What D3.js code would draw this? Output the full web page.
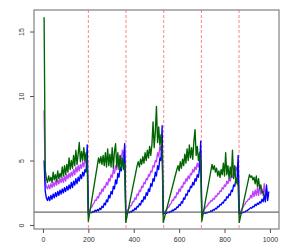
<!DOCTYPE html>
<html><head><meta charset="utf-8">
<script src="https://cdn.jsdelivr.net/npm/d3@7"></script>
<style>html,body{margin:0;padding:0;background:#fff;} svg{display:block;}</style>
</head><body>
<svg id="c" width="297" height="248"></svg>
<script>
// index positions (every 5th step of the run)
const xs = d3.range(5, 1000, 5);

const blue = [
  5.0,2.6,2.1,1.9,2.2,1.9,2.3,2.0,2.4,2.1, 2.5,2.2,2.6,2.3,2.7,2.4,2.8,2.5,2.9,2.6,
  3.0,2.7,3.1,2.8,3.3,2.9,3.4,3.1,3.6,3.2, 3.7,3.4,3.9,3.6,4.1,3.8,4.3,4.1,6.2,0.9,
  0.9,1.0,0.95,1.05,1.0,1.15,1.05,1.2,1.1,1.3, 1.2,1.45,1.35,1.7,1.55,1.95,1.8,2.3,2.1,2.6,
  2.4,3.0,2.8,3.5,3.2,4.0,3.7,4.5,4.2,4.9, 4.6,6.3,0.9,
  0.9,1.0,0.95,1.05,1.0,1.15,1.1,1.3,1.2,1.45, 1.4,1.65,1.55,1.9,1.8,2.2,2.0,2.5,2.3,2.8,
  2.6,3.2,3.0,3.6,3.4,4.1,3.8,4.6,4.3,5.2, 5.0,7.7,0.9,
  0.9,0.95,0.9,1.0,0.95,1.05,1.0,1.15,1.1,1.25, 1.2,1.4,1.35,1.6,1.5,1.8,1.7,2.1,2.0,2.4,
  2.3,2.7,2.6,3.0,2.9,3.3,3.1,3.6,3.4,3.9, 3.7,4.4,6.5,0.9,
  0.9,0.95,0.9,0.95,0.95,1.0,1.0,1.1,1.05,1.2, 1.15,1.3,1.25,1.45,1.4,1.6,1.55,1.75,1.7,1.95,
  1.9,2.2,2.1,2.4,2.3,2.7,2.6,3.1,3.0,3.6, 3.5,5.4,0.9,
  0.9,0.95,0.95,1.0,1.0,1.1,1.1,1.2,1.25,1.35, 1.3,1.45,1.4,1.6,1.5,1.7,1.6,1.8,1.7,2.0,
  1.8,2.3,1.8,3.1,1.9,2.6
];

const violet = [
  8.9,3.4,3.0,2.8,3.1,2.8,3.2,2.9,3.3,3.0, 3.4,3.1,3.5,3.2,3.6,3.3,3.7,3.3,3.8,3.4,
  3.9,3.6,4.0,3.7,4.1,3.8,4.3,3.9,4.5,4.1, 4.6,4.2,4.7,4.4,4.9,4.5,5.1,4.8,5.6,0.8,
  1.1,1.3,1.4,1.6,1.7,1.95,1.9,2.2,2.1,2.5, 2.4,2.8,2.6,3.0,2.9,3.3,3.1,3.6,3.4,3.9,
  3.7,4.3,4.0,4.6,4.3,5.0,4.7,5.4,5.0,5.8, 5.3,6.0,0.8,
  1.0,1.2,1.3,1.5,1.5,1.8,1.8,2.1,2.0,2.4, 2.3,2.7,2.6,3.0,2.9,3.3,3.2,3.6,3.5,3.9,
  3.8,4.2,4.1,4.6,4.5,5.0,4.9,5.6,5.3,6.1, 5.8,7.0,0.8,
  1.0,1.1,1.2,1.35,1.4,1.6,1.7,1.95,1.9,2.2, 2.1,2.5,2.4,2.8,2.6,3.0,2.9,3.3,3.2,3.6,
  3.4,3.8,3.6,4.0,3.9,4.3,4.1,4.5,4.3,4.8, 4.5,5.0,5.8,0.8,
  1.0,1.2,1.3,1.45,1.5,1.7,1.7,1.9,1.85,2.05, 2.0,2.25,2.2,2.45,2.4,2.65,2.6,2.9,2.8,3.1,
  3.0,3.4,3.2,3.6,3.4,3.9,3.7,4.2,4.0,4.5, 4.2,4.8,0.8,
  1.0,1.2,1.35,1.5,1.6,1.8,1.85,2.0,2.0,2.3, 2.1,2.6,2.2,2.7,2.3,2.9,2.3,3.1,2.4,2.8,
  2.3,3.2,2.2,2.8,2.1,2.3
];

const green = [
  16.1,4.3,3.6,3.3,3.8,3.4,3.7,3.3,4.1,3.5, 3.9,3.4,4.2,3.6,4.0,3.7,4.5,3.8,4.6,3.9,
  4.7,4.1,5.2,4.3,5.0,4.4,5.4,4.6,5.8,4.7, 5.5,6.4,4.9,5.7,5.0,6.0,5.0,5.6,4.6,0.3,
  null,null,null,null,null,null,null,null, 5.2,4.8,
  5.3,4.7,5.4,4.6,5.6,4.5,5.9,4.6,5.5,4.5, 6.0,4.4,5.7,6.3,4.5,5.6,4.3,5.4,4.4,5.2,
  4.3,4.8,0.2,
  null,null,null,null,null,null,null,null,null,
  4.6,4.9,4.5,5.1,4.7,5.3,4.8,5.6,5.0,5.8, 5.2,6.1,5.4,6.2,8.0,6.0,7.2,9.2,6.4,7.6,
  6.2,7.0,5.8,0.2,
  null,null,null,null,null,null,null,null,null,null,null,
  4.3,4.6,4.2,4.9,4.4,5.1,4.6,5.5,4.8,5.9, 5.0,6.2,5.2,6.0,5.1,6.5,7.4,5.4,6.1,5.0,
  5.6,4.8,0.3,
  null,null,null,null,null,null,null,null,
  4.7,4.3,4.6,4.1,4.4,3.8,4.2,3.7,4.3,3.9, 4.8,3.8,5.6,3.9,4.6,3.6,4.5,3.7,5.8,3.6,
  4.6,3.2,3.6,3.0,0.2,
  null,null,null,null,null,null,null,null,
  3.9,3.7,3.8,3.5,3.7,3.2,3.8,3.0,3.6,2.8, 3.1,2.5,2.6,2.2,
  null,null,null,null
];

const boundaries = [200, 366, 532, 698, 864];
const refLevel = 1;
const xTicks = [0, 200, 400, 600, 800, 1000];
const yTicks = [0, 5, 10, 15];

const plot = {left: 34, right: 279, top: 10, bottom: 229};
const svg = d3.select("#c");
const x = d3.scaleLinear().domain([-39.5, 1040]).range([plot.left, plot.right]);
const y = d3.scaleLinear().domain([-0.31, 16.67]).range([plot.bottom, plot.top]);
const font = "'Liberation Sans', Arial, sans-serif";

function series(vals) {
  return xs.map((xv, i) => ({x: xv, y: vals[i]})).filter(d => d.y !== null && d.y !== undefined);
}
const line = d3.line().x(d => x(d.x)).y(d => y(d.y));

// vertical dashed boundaries
svg.append("g").selectAll("line").data(boundaries).join("line")
  .attr("x1", d => x(d)).attr("x2", d => x(d))
  .attr("y1", plot.top).attr("y2", plot.bottom)
  .attr("stroke", "#ff3030").attr("stroke-opacity", 0.6)
  .attr("stroke-width", 1).attr("stroke-dasharray", "3,2");

const lines = [
  {vals: violet, color: "#BF3EFF"},
  {vals: blue, color: "#0000FF"},
  {vals: green, color: "#006400"}
];
svg.append("g").selectAll("path").data(lines).join("path")
  .attr("d", d => line(series(d.vals)))
  .attr("fill", "none").attr("stroke", d => d.color)
  .attr("stroke-width", 1.35).attr("stroke-linejoin", "round");

// reference line
svg.append("line")
  .attr("x1", plot.left).attr("x2", plot.right)
  .attr("y1", y(refLevel)).attr("y2", y(refLevel))
  .attr("stroke", "#444").attr("stroke-width", 1);

// box
svg.append("rect")
  .attr("x", plot.left).attr("y", plot.top)
  .attr("width", plot.right - plot.left).attr("height", plot.bottom - plot.top)
  .attr("fill", "none").attr("stroke", "#808080").attr("stroke-width", 1.2);

// x axis
const gx = svg.append("g").attr("transform", `translate(0,${plot.bottom})`)
  .call(d3.axisBottom(x).tickValues(xTicks).tickSize(4).tickPadding(4).tickFormat(d3.format("d")));
gx.select(".domain").remove();
gx.selectAll("line").attr("stroke", "#555");
gx.selectAll("text").attr("font-family", font).attr("font-size", 7).attr("fill", "#333");

// y axis
const gy = svg.append("g").attr("transform", `translate(${plot.left},0)`)
  .call(d3.axisLeft(y).tickValues(yTicks).tickSize(4).tickFormat(d3.format("d")));
gy.select(".domain").remove();
gy.selectAll("line").attr("stroke", "#555");
gy.selectAll("text")
  .attr("font-family", font).attr("font-size", 7).attr("fill", "#333")
  .attr("x", null).attr("dy", null)
  .attr("text-anchor", "middle")
  .attr("transform", "translate(-10,0) rotate(-90)")
  .attr("y", 0);
</script>
</body></html>
